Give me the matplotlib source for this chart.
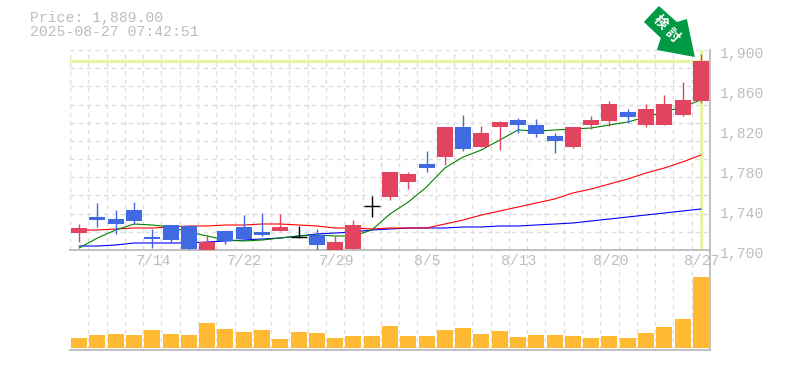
import numpy as np
import matplotlib

matplotlib.use("Agg")
import matplotlib.pyplot as plt
from matplotlib.patches import Polygon
from matplotlib.transforms import Affine2D, ScaledTranslation

opens = [1717, 1733, 1731, 1740, 1713, 1725, 1724, 1699, 1719, 1723, 1718, 1719,
         1713, 1715, 1699, 1701, 1744, 1753, 1768, 1786, 1793, 1823, 1803, 1823,
         1830, 1825, 1814, 1803, 1825, 1829, 1838, 1825, 1825, 1835, 1849]
closes = [1722, 1730, 1726, 1729, 1711, 1710, 1701, 1708, 1709, 1711, 1715, 1723,
          1713, 1705, 1708, 1725, 1744, 1778, 1776, 1782, 1823, 1801, 1817, 1828,
          1825, 1816, 1809, 1823, 1830, 1846, 1833, 1841, 1846, 1850, 1889]
highs = [1726, 1747, 1740, 1748, 1721, 1725, 1724, 1715, 1719, 1735, 1737, 1736,
         1724, 1721, 1714, 1730, 1754, 1778, 1778, 1799, 1823, 1835, 1824, 1829,
         1832, 1831, 1817, 1823, 1834, 1849, 1841, 1846, 1855, 1868, 1896]
lows = [1708, 1723, 1716, 1726, 1702, 1707, 1700, 1699, 1706, 1711, 1714, 1719,
        1712, 1699, 1699, 1701, 1733, 1750, 1761, 1778, 1785, 1799, 1803, 1800,
        1817, 1813, 1797, 1802, 1821, 1824, 1827, 1823, 1825, 1834, 1847]
ma_short = [1702, 1712, 1720, 1726, 1725, 1723, 1718, 1714, 1710, 1709, 1710, 1712,
            1714, 1715, 1714, 1714, 1720, 1736, 1748, 1763, 1782, 1793, 1800, 1810,
            1820, 1819, 1820, 1821, 1822, 1825, 1828, 1833, 1838, 1843, 1850]
ma_mid = [1720, 1720, 1721, 1722, 1722, 1723, 1724, 1724, 1725, 1725, 1726, 1726,
          1725, 1724, 1722, 1722, 1721, 1722, 1722, 1722, 1726, 1730, 1735, 1739,
          1743, 1747, 1751, 1757, 1761, 1766, 1771, 1777, 1782, 1788, 1795]
ma_long = [1704, 1704, 1705, 1707, 1707, 1707, 1707, 1708, 1709, 1710, 1711, 1712,
           1714, 1716, 1717, 1718, 1720, 1721, 1722, 1722, 1722, 1723, 1723, 1724,
           1724, 1725, 1726, 1727, 1729, 1731, 1733, 1735, 1737, 1739, 1741]
volumes = [10, 13, 14, 13, 18, 14, 13, 25, 19, 16, 18, 9, 16, 15, 10, 12, 12, 22,
           12, 12, 18, 20, 14, 17, 11, 13, 13, 12, 10, 12, 10, 15, 21, 29, 71]
date_labels = ["7/14", "7/22", "7/29", "8/5", "8/13", "8/20", "8/27"]
date_idx = [4, 9, 14, 19, 24, 29, 34]
price_ticks = [1700, 1740, 1780, 1820, 1860, 1900]
last_price = 1889.0
timestamp = "2025-08-27 07:42:51"

RED = "#E2445F"
BLUE = "#4169E1"
GRID = "#DCDCDC"
AXIS = "#BBBBBB"
TEXT = "#BDBDBD"
HILITE = "#E4F5A8"
MONO = "Liberation Mono"
W, H = 785, 370

fig = plt.figure(figsize=(W / 100, H / 100), dpi=100)
ax_vol = fig.add_axes([70 / W, (H - 350) / H, 640 / W, 100 / H])
ax = fig.add_axes([70 / W, (H - 250) / H, 640 / W, 200 / H])
ax.patch.set_alpha(0)
ax_vol.patch.set_alpha(0)

x = np.arange(len(closes))
for a in (ax, ax_vol):
    a.set_xlim(-0.5, len(closes) - 0.5)
    a.set_xticks(x[:-1] + 0.5, minor=True)
    a.grid(True, which="minor", axis="x", color=GRID, ls=(0, (3, 3)), lw=1)
    a.tick_params(which="both", length=0)
    a.set_axisbelow(True)
    for side in ("top", "left"):
        a.spines[side].set_visible(False)
    for side in ("bottom", "right"):
        a.spines[side].set_color(AXIS)
        a.spines[side].set_linewidth(1.3)

# price panel
ax.set_ylim(1700, 1900)
ax.set_yticks(np.linspace(1700, 1900, 12), minor=True)
ax.grid(True, which="minor", axis="y", color=GRID, ls=(0, (3, 3)), lw=1)
ax.axvline(-0.5, color=GRID, ls=(0, (3, 3)), lw=1)
ax.axhline(1900, color=GRID, ls=(0, (3, 3)), lw=1)

ax.axhline(last_price, color=HILITE, lw=2.4, zorder=1)
ax.axvline(x[-1], color=HILITE, lw=2.4, zorder=1)

ax.plot(x, ma_long, color="#0000FF", lw=0.8, zorder=2)
ax.plot(x, ma_mid, color="#FF0000", lw=0.8, zorder=2)
ax.plot(x, ma_short, color="#008000", lw=0.8, zorder=2)

for i in x:
    o, c = opens[i], closes[i]
    col = RED if c > o else BLUE if c < o else "black"
    ax.vlines(i, lows[i], highs[i], color=col, lw=1, zorder=3)
    if c == o:
        ax.hlines(c, i - 0.44, i + 0.44, color=col, lw=1, zorder=3)
    else:
        ax.bar(i, abs(c - o), bottom=min(o, c), width=0.875, color=col, lw=0, zorder=3)

ax.set_xticks(date_idx, date_labels, family=MONO, fontsize=10.6, color=TEXT)
ax.tick_params(axis="x", which="major", pad=3)
ax.yaxis.tick_right()
ax.set_yticks(price_ticks, [f"{p:,}" for p in price_ticks], family=MONO, fontsize=10.6, color=TEXT)
ax.tick_params(axis="y", which="major", pad=7)
for lab in ax.get_yticklabels():
    lab.set_transform(lab.get_transform() + ScaledTranslation(0, -2.6 / 100, fig.dpi_scale_trans))
for lab in ax.get_xticklabels():
    lab.set_transform(lab.get_transform() + ScaledTranslation(1 / 100, 0, fig.dpi_scale_trans))

# volume panel
ax_vol.set_ylim(-2, 98)
ax_vol.set_yticks([])
ax_vol.set_xticks([])
ax_vol.bar(x, volumes, width=0.875, color="#FFB933", lw=0, zorder=3)

# signal arrow, pinned to the last candle at the top of the panel
shape = [(-42, -44), (-57, -28), (-40, -12), (-44, 0), (-6, 7), (-14, -31), (-24, -28)]
arrow_tr = Affine2D().scale(1, -1) + Affine2D().translate(*ax.transData.transform((x[-1], 1900)))
ax.add_patch(Polygon(shape, closed=True, color="#009944", lw=0, transform=arrow_tr, clip_on=False, zorder=5))

for ch, px, py in [("検", 660, 22), ("討", 672, 35)]:
    fig.text(px / W, (H - py) / H, ch, color="white", fontsize=10, fontweight="bold",
             family=["Noto Sans CJK JP", "DejaVu Sans"], rotation=-45, ha="center", va="center",
             rotation_mode="anchor", zorder=6)

fig.text(30 / W, (H - 18) / H, f"Price: {last_price:,.2f}", family=MONO, fontsize=10.6, color=TEXT, va="center")
fig.text(30 / W, (H - 32) / H, timestamp, family=MONO, fontsize=10.6, color=TEXT, va="center")

fig.savefig("out.png", dpi=100)
